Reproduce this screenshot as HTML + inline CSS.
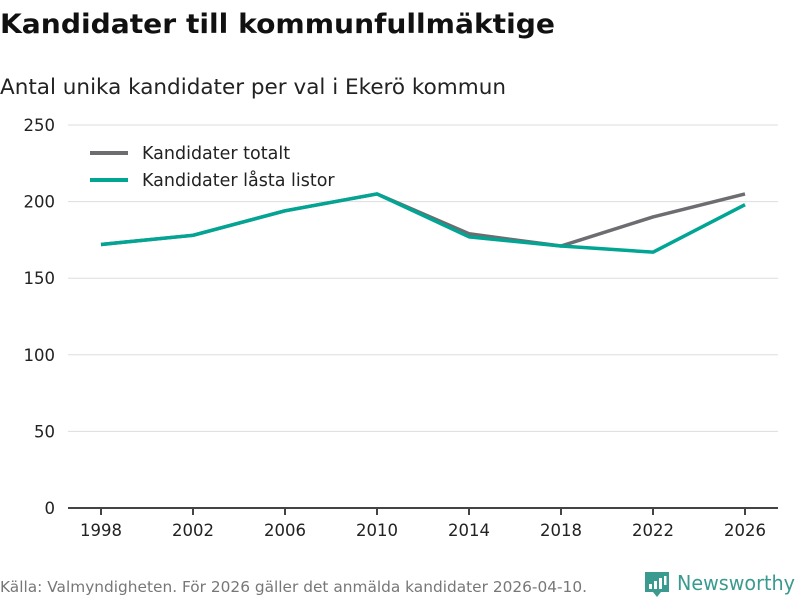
<!DOCTYPE html>
<html><head><meta charset="utf-8"><style>
body{margin:0;background:#fff;width:800px;height:600px;overflow:hidden;font-family:"DejaVu Sans","Liberation Sans",sans-serif}
</style></head><body>
<svg width="800" height="600" xmlns="http://www.w3.org/2000/svg">
<text x="0" y="33" font-size="27" font-weight="bold" fill="#111" textLength="555" lengthAdjust="spacingAndGlyphs">Kandidater till kommunfullmäktige</text>
<text x="0" y="94" font-size="21.5" fill="#222" textLength="506" lengthAdjust="spacingAndGlyphs">Antal unika kandidater per val i Ekerö kommun</text>
<g id="grid"></g>
<g id="axes"></g>
<g id="lines"></g>
<g>
<line x1="90" y1="153" x2="128" y2="153" stroke="#6d6c70" stroke-width="4"/>
<text x="142" y="159" font-size="17.5" fill="#222">Kandidater totalt</text>
<line x1="90" y1="180" x2="128" y2="180" stroke="#00a594" stroke-width="4"/>
<text x="142" y="186" font-size="17.5" fill="#222">Kandidater låsta listor</text>
</g>
<text x="0" y="592" font-size="15" fill="#777" textLength="587" lengthAdjust="spacingAndGlyphs">Källa: Valmyndigheten. För 2026 gäller det anmälda kandidater 2026-04-10.</text>
<g>
<path d="M645 572 h24 v20 h-8 l-4 5 l-4 -5 h-8 z" fill="#3a9a8f"/>
<rect x="649" y="584" width="3" height="5" fill="#fff"/><rect x="654" y="581" width="3" height="8" fill="#fff"/><rect x="659" y="578" width="3" height="11" fill="#fff"/><rect x="664" y="576" width="2.5" height="9" fill="#fff"/>
<text x="677" y="590" font-size="20" fill="#3a9a8f" textLength="118" lengthAdjust="spacingAndGlyphs">Newsworthy</text>
</g>
</svg>
<script>
const years=[1998,2002,2006,2010,2014,2018,2022,2026];
const totalt=[172,178,194,205,179,171,190,205];
const lasta=[172,178,194,205,177,171,167,198];
const yTicks=[0,50,100,150,200,250];
const NS="http://www.w3.org/2000/svg";
const x=v=>101+(v-1998)*(745-101)/28;
const y=v=>508-v*(383/250);
function mk(t,a,p){const e=document.createElementNS(NS,t);for(const k in a)e.setAttribute(k,a[k]);p.appendChild(e);return e;}
const grid=document.getElementById('grid'),axes=document.getElementById('axes'),lines=document.getElementById('lines');
yTicks.forEach(t=>{
 if(t>0){const g=mk('line',{x1:68,x2:778,y1:y(t),y2:y(t),stroke:'#ddd','stroke-width':1},grid);
 
 }
 const l=mk('text',{x:55,y:y(t)+6,'font-size':16.5,fill:'#222','text-anchor':'end'},axes);l.textContent=t;
 
 
});
const ax=mk('line',{x1:68,x2:778,y1:508,y2:508,stroke:'#444','stroke-width':2},axes);


years.forEach(v=>{
 const tk=mk('line',{x1:x(v),x2:x(v),y1:508,y2:515,stroke:'#444','stroke-width':2},axes);
 
 
 const l=mk('text',{x:x(v),y:536,'font-size':16.5,fill:'#222','text-anchor':'middle'},axes);l.textContent=v;
 
 
});
function line(vals,color,name){
 const p=mk('polyline',{points:vals.map((v,i)=>x(years[i])+','+y(v)).join(' '),fill:'none',stroke:color,'stroke-width':3.5,'stroke-linejoin':'round'},lines);
 
 
}
line(totalt,'#6d6c70','line-kandidater-totalt');
line(lasta,'#00a594','line-kandidater-lasta-listor');
</script>
</body></html>
